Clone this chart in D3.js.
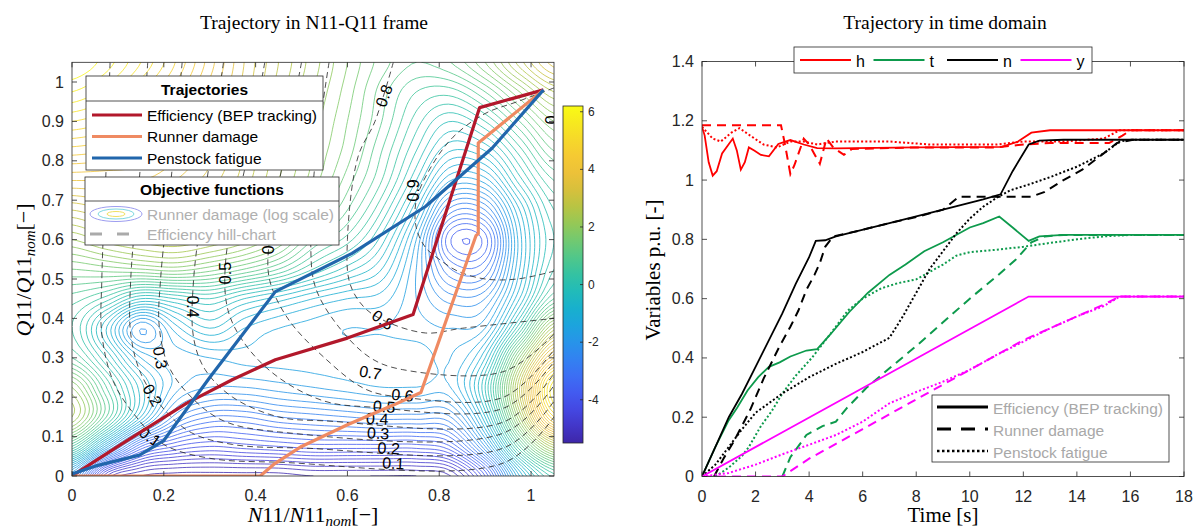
<!DOCTYPE html>
<html>
<head>
<meta charset="utf-8">
<script src="https://cdn.jsdelivr.net/npm/d3@7"></script>
<style>
  body { margin: 0; background: #fff; }
  text { font-family: "Liberation Sans", Arial, sans-serif; fill: #262626; }
  .serif { font-family: "Liberation Serif", "DejaVu Serif", serif; }
</style>
</head>
<body>
<script>
'use strict';

// ---------- left panel: runner damage field (log scale), rows = Q11, cols = N11 ----------
const damageX = [0, 0.075, 0.15, 0.225, 0.3, 0.375, 0.45, 0.525, 0.6, 0.675, 0.75, 0.825, 0.9, 0.975, 1.05];
const damageY = [0, 0.075, 0.15, 0.225, 0.3, 0.375, 0.45, 0.525, 0.6, 0.675, 0.75, 0.825, 0.9, 0.975, 1.05];
const damageLog = [
  [-2.0, -4.8, -5.4, -5.5, -5.5, -5.5, -5.5, -5.4, -5.4, -5.4, -5.4, -5.2, -3.8, -1.2, 0.3],
  [ 0.6, -1.5, -3.4, -4.0, -4.2, -4.1, -4.0, -3.9, -3.9, -3.9, -3.9, -3.6, -2.0, 0.6, 2.5],
  [ 2.4,  0.8, -1.0, -2.5, -3.0, -3.0, -2.8, -2.7, -2.6, -2.5, -2.5, -2.4, -0.8, 2.2, 5.0],
  [ 2.0,  0.6, -0.7, -1.7, -2.0, -2.0, -1.9, -1.8, -1.7, -1.6, -1.6, -1.6, -0.2, 2.8, 5.8],
  [ 0.8, -0.2, -1.4, -1.7, -1.6, -1.5, -1.5, -1.5, -1.5, -1.5, -1.5, -1.6, -0.8, 1.8, 4.2],
  [ 0.4, -0.8, -2.2, -1.3, -0.8, -1.2, -1.4, -1.5, -1.6, -1.6, -1.7, -1.8, -1.6, 0.2, 2.5],
  [ 0.7,  0.3, -0.4, -0.2,  0.0, -0.4, -0.7, -1.0, -1.2, -1.3, -1.8, -2.3, -2.2, -0.8, 0.8],
  [ 1.4,  1.5,  1.6,  1.7,  1.5,  1.2,  0.8,  0.2, -0.3, -0.8, -1.8, -3.0, -3.0, -1.2, 0.2],
  [ 2.2,  2.5,  2.7,  2.8,  2.6,  2.3,  1.8,  1.0,  0.5, -0.3, -1.6, -3.6, -3.5, -1.3, 0.0],
  [ 3.0,  3.2,  3.3,  3.3,  3.0,  2.7,  2.2,  1.6,  1.0,  0.2, -1.0, -2.7, -2.6, -1.0, 0.2],
  [ 3.8,  3.8,  3.8,  3.6,  3.3,  2.9,  2.4,  1.9,  1.3,  0.6, -0.4, -1.6, -1.5, -0.3, 0.6],
  [ 4.5,  4.4,  4.2,  3.9,  3.5,  3.0,  2.5,  2.0,  1.5,  0.8,  0.0, -0.8, -0.6, 0.3, 1.2],
  [ 5.2,  5.0,  4.6,  4.2,  3.7,  3.1,  2.6,  2.1,  1.6,  1.0,  0.3, -0.2,  0.2, 1.0, 1.8],
  [ 5.8,  5.5,  5.0,  4.5,  3.9,  3.3,  2.7,  2.2,  1.7,  1.1,  0.6,  0.5,  1.0, 1.8, 2.6],
  [ 6.2,  5.9,  5.4,  4.8,  4.1,  3.4,  2.8,  2.3,  1.8,  1.3,  1.0,  1.2,  1.8, 2.7, 3.5]
];
const damageRange = [-5.5, 6.2];
const colorbarTicks = [-4, -2, 0, 2, 4, 6];

// efficiency hill-chart contours (N11, Q11 points along each iso-line)
const effLevels = [0.1, 0.2, 0.3, 0.4, 0.5, 0.6, 0.7, 0.8, 0.9];
const effLines = [
  [[0.083,1.05],[0.075,0.8],[0.065,0.5],[0.065,0.36],[0.09,0.24],[0.14,0.15],[0.2,0.08],[0.3,0.045],[0.45,0.035],[0.94,0.033],[1.05,0.15]],
  [[0.165,1.05],[0.15,0.8],[0.128,0.5],[0.128,0.36],[0.15,0.26],[0.2,0.17],[0.26,0.11],[0.35,0.08],[0.5,0.071],[0.94,0.071],[1.05,0.19]],
  [[0.24,1.05],[0.22,0.8],[0.193,0.5],[0.19,0.38],[0.21,0.28],[0.26,0.2],[0.33,0.14],[0.45,0.112],[0.94,0.109],[1.05,0.23]],
  [[0.33,1.05],[0.3,0.8],[0.265,0.5],[0.265,0.35],[0.29,0.27],[0.35,0.2],[0.45,0.15],[0.55,0.14],[0.94,0.137],[1.05,0.26]],
  [[0.42,1.05],[0.38,0.8],[0.335,0.55],[0.34,0.42],[0.38,0.33],[0.45,0.25],[0.55,0.19],[0.65,0.175],[0.94,0.172],[1.05,0.29]],
  [[0.5,1.05],[0.46,0.8],[0.43,0.6],[0.43,0.5],[0.47,0.4],[0.55,0.3],[0.64,0.22],[0.72,0.2],[0.94,0.2],[1.05,0.32]],
  [[0.56,1.05],[0.53,0.8],[0.52,0.6],[0.53,0.48],[0.58,0.38],[0.65,0.3],[0.72,0.27],[0.94,0.265],[1.05,0.36]],
  [[0.7,1.05],[0.66,0.9],[0.623,0.81],[0.6,0.6],[0.605,0.49],[0.635,0.43],[0.677,0.396],[0.77,0.363],[0.85,0.375],[1.05,0.4]],
  [[1.05,0.985],[0.97,0.95],[0.9,0.92],[0.83,0.86],[0.78,0.78],[0.75,0.7],[0.75,0.63],[0.77,0.58],[0.8,0.55],[0.84,0.52],[0.9,0.5],[0.97,0.5],[1.05,0.52]]
];
const effLabelText  = ['0.1','0.2','0.3','0.4','0.5','0','0.7','0.6','0.5','0.4','0.3','0.2','0.1','0.8','0.8','0.9','0.'];
const effLabelPos   = [[0.17,0.1],[0.175,0.205],[0.192,0.3],[0.263,0.43],[0.335,0.515],[0.427,0.574],[0.65,0.262],[0.72,0.205],[0.68,0.176],[0.665,0.145],[0.667,0.108],[0.69,0.07],[0.70,0.032],[0.677,0.396],[0.68,0.965],[0.745,0.725],[1.044,0.91]];
const effLabelAngle = [35, 60, 80, 90, -90, -90, 10, 5, 5, 3, 3, 3, 3, 35, -70, -90, -90];

// trajectories in N11-Q11 frame
const trajNames = ['Efficiency (BEP tracking)', 'Runner damage', 'Penstock fatigue'];
const trajEff = [[0,0],[0.1,0.075],[0.25,0.185],[0.35,0.245],[0.443,0.295],[0.6,0.35],[0.743,0.41],[0.888,0.935],[1.027,0.98]];
const trajRunner = [[0,0],[0.41,0],[0.44,0.03],[0.5,0.075],[0.6,0.13],[0.7,0.18],[0.76,0.212],[0.88,0.61],[0.885,0.615],[0.885,0.845],[1.027,0.98]];
const trajPenstock = [[0,0.005],[0.05,0.025],[0.147,0.053],[0.2,0.09],[0.3,0.25],[0.443,0.468],[0.61,0.565],[0.77,0.684],[0.915,0.832],[1.027,0.98]];

// ---------- right panel: time domain ----------
const hEff = [[0,1.18],[0.1,1.15],[0.25,1.06],[0.4,1.015],[0.55,1.03],[0.75,1.09],[0.95,1.115],[1.15,1.14],[1.3,1.1],[1.45,1.035],[1.6,1.06],[1.75,1.11],[1.95,1.1],[2.2,1.085],[2.5,1.08],[2.85,1.122],[3.3,1.135],[3.8,1.12],[4.3,1.108],[5,1.107],[8,1.11],[11.2,1.112],[11.8,1.13],[12.3,1.16],[13,1.168],[18,1.168]];
const hRunner = [[0,1.185],[2.95,1.185],[3.1,1.12],[3.3,1.02],[3.45,1.05],[3.8,1.14],[4.0,1.12],[4.4,1.055],[4.65,1.14],[4.9,1.11],[5.3,1.085],[5.6,1.105],[8,1.11],[11,1.11],[12,1.12],[13,1.125],[15.2,1.125],[15.7,1.15],[16,1.168],[18,1.168]];
const hPenstock = [[0,1.18],[0.4,1.14],[0.7,1.13],[1.1,1.16],[1.4,1.175],[1.8,1.15],[2.3,1.12],[2.8,1.11],[3.3,1.13],[3.8,1.13],[4.3,1.12],[5,1.13],[7,1.13],[8.5,1.12],[11,1.12],[12,1.13],[13.5,1.13],[15,1.14],[15.6,1.168],[18,1.168]];

const tEff = [[0,0],[0.5,0.1],[1,0.19],[1.3,0.23],[1.7,0.29],[2.1,0.335],[2.5,0.37],[2.9,0.385],[3.3,0.405],[3.9,0.425],[4.3,0.43],[4.8,0.48],[5.5,0.555],[6.2,0.62],[7,0.68],[7.6,0.715],[8.3,0.76],[9,0.79],[10,0.84],[10.5,0.855],[11.1,0.877],[11.6,0.84],[12.2,0.795],[12.6,0.81],[13.5,0.815],[18,0.815]];
const tRunner = [[3.0,0],[3.3,0.065],[3.9,0.14],[4.5,0.17],[5.0,0.185],[5.4,0.23],[6.15,0.3],[7,0.365],[8,0.44],[9,0.52],[10,0.6],[11,0.675],[11.7,0.73],[12.3,0.79],[12.8,0.81],[13.5,0.815],[18,0.815]];
const tPenstock = [[0.5,0],[1,0.03],[1.5,0.07],[1.75,0.1],[2.2,0.17],[2.6,0.22],[3.0,0.28],[3.5,0.34],[4.1,0.4],[4.7,0.47],[5.45,0.56],[6,0.6],[6.7,0.635],[7.3,0.652],[8,0.665],[8.5,0.69],[9,0.715],[9.5,0.745],[10,0.757],[11,0.765],[12,0.775],[13,0.788],[14,0.8],[15,0.81],[16,0.815],[18,0.815]];

const nEff = [[0,0],[0.5,0.1],[1,0.2],[1.5,0.28],[2,0.37],[2.5,0.46],[3,0.55],[3.5,0.65],[4,0.74],[4.25,0.795],[4.6,0.797],[5,0.81],[7,0.855],[9,0.9],[10.5,0.935],[11.15,0.952],[11.6,1.03],[12.2,1.12],[12.6,1.133],[13.5,1.136],[18,1.136]];
const nRunner = [[0.45,0],[0.8,0.06],[1.2,0.12],[1.8,0.225],[2.3,0.33],[2.9,0.44],[3.3,0.505],[3.6,0.56],[3.9,0.63],[4.2,0.68],[4.4,0.72],[4.6,0.775],[4.9,0.81],[5.9,0.83],[7,0.855],[8,0.875],[9,0.9],[9.6,0.944],[12.3,0.944],[12.8,0.96],[13.5,1.0],[14.2,1.035],[15,1.09],[15.5,1.125],[16.1,1.136],[18,1.136]];
const nPenstock = [[0,0],[0.5,0.04],[1,0.1],[1.5,0.16],[2,0.215],[3,0.28],[4,0.335],[5,0.38],[6,0.42],[7,0.468],[7.5,0.54],[8,0.62],[8.5,0.7],[9,0.76],[9.5,0.82],[10,0.87],[10.5,0.91],[11,0.94],[11.5,0.965],[12.2,0.985],[13,1.01],[14,1.045],[15,1.09],[15.6,1.13],[16,1.136],[18,1.136]];

const yEff = [[0,0],[12.2,0.607],[18,0.607]];
const yRunner = [[0,0],[3,0],[4,0.06],[5,0.11],[6,0.16],[7,0.21],[8,0.26],[9,0.31],[10,0.36],[11,0.41],[12,0.46],[13,0.5],[14,0.54],[15,0.58],[15.6,0.607],[18,0.607]];
const yPenstock = [[0,0],[1,0.012],[2,0.04],[3,0.075],[4,0.107],[5,0.14],[6,0.185],[7,0.247],[8,0.285],[9,0.32],[10,0.36],[11,0.41],[12,0.455],[13,0.5],[14,0.54],[15,0.575],[15.6,0.607],[18,0.607]];

const varNames = ['h', 't', 'n', 'y'];
const varColors = ['#ff0000', '#0d9a4c', '#000000', '#ff00ff'];

// parula-like colour map
const parula = d3.interpolateRgbBasis(['#3e26a8','#4746eb','#3e6ff8','#2796eb','#0fb2d0','#2fc4a2','#6fcb72','#b9c53a','#f7ba3c','#f5d62b','#f9fb14']);

const svg = d3.select('body').append('svg').attr('width', 1197).attr('height', 529);

// ================= LEFT PANEL =================
const xL = d3.scaleLinear().domain([0, 1.05]).range([72, 554]);
const yL = d3.scaleLinear().domain([0, 1.05]).range([476, 62.3]);

svg.append('clipPath').attr('id', 'clipL').append('rect')
  .attr('x', 72).attr('y', 62.3).attr('width', 482).attr('height', 413.7);

const left = svg.append('g').attr('clip-path', 'url(#clipL)');

// smooth the read grid with a catmull-rom patch so the iso-lines are not jagged
function cubic(p0, p1, p2, p3, t) {
  return p1 + 0.5 * t * (p2 - p0 + t * (2 * p0 - 5 * p1 + 4 * p2 - p3 + t * (3 * (p1 - p2) + p3 - p0)));
}
function sampleGrid(g, u, v) {
  const ny = g.length, nx = g[0].length;
  const i = Math.min(Math.floor(u), nx - 2), j = Math.min(Math.floor(v), ny - 2);
  const tu = u - i, tv = v - j;
  const at = (r, c) => g[Math.max(0, Math.min(ny - 1, r))][Math.max(0, Math.min(nx - 1, c))];
  const rows = [];
  for (let k = -1; k <= 2; k++) rows.push(cubic(at(j + k, i - 1), at(j + k, i), at(j + k, i + 1), at(j + k, i + 2), tu));
  return cubic(rows[0], rows[1], rows[2], rows[3], tv);
}
const nf = 106;
const fineStepX = (damageX[damageX.length - 1] - damageX[0]) / (nf - 1);
const fineStepY = (damageY[damageY.length - 1] - damageY[0]) / (nf - 1);
const fine = new Float64Array(nf * nf);
for (let j = 0; j < nf; j++) {
  for (let i = 0; i < nf; i++) {
    fine[j * nf + i] = sampleGrid(damageLog, i * (damageX.length - 1) / (nf - 1), j * (damageY.length - 1) / (nf - 1));
  }
}
const levels = d3.range(-5.4, 6.21, 0.2);
const contours = d3.contours().size([nf, nf]).thresholds(levels)(fine);
const gridProj = d3.geoTransform({
  point: function (px, py) {
    this.stream.point(xL(damageX[0] + (px - 0.5) * fineStepX), yL(damageY[0] + (py - 0.5) * fineStepY));
  }
});
const cScale = d3.scaleLinear().domain(damageRange).range([0, 1]).clamp(true);
left.append('g').selectAll('path')
  .data(contours)
  .enter().append('path')
  .attr('d', d3.geoPath(gridProj))
  .attr('fill', 'none')
  .attr('stroke', d => parula(cScale(d.value)))
  .attr('stroke-width', 0.8);

// efficiency hill chart
const effLine = d3.line().x(d => xL(d[0])).y(d => yL(d[1])).curve(d3.curveCatmullRom.alpha(0.5));
left.append('g').selectAll('path')
  .data(effLines)
  .enter().append('path')
  .attr('d', effLine)
  .attr('fill', 'none')
  .attr('stroke', '#222')
  .attr('stroke-width', 0.8)
  .attr('stroke-dasharray', '6,4');

left.append('g').selectAll('text')
  .data(effLabelText)
  .enter().append('text')
  .attr('transform', (d, i) => 'translate(' + xL(effLabelPos[i][0]) + ',' + yL(effLabelPos[i][1]) + ')rotate(' + effLabelAngle[i] + ')')
  .attr('text-anchor', 'middle')
  .attr('dominant-baseline', 'central')
  .style('font-size', '16px')
  .style('fill', '#000')
  .text(d => d);

// trajectories
const trajColors = ['#b2182b', '#ef8a62', '#2166ac'];
const trajLine = d3.line().x(d => xL(d[0])).y(d => yL(d[1]));
[trajEff, trajRunner, trajPenstock].forEach((tr, i) => {
  left.append('path')
    .attr('d', trajLine(tr))
    .attr('fill', 'none')
    .attr('stroke', trajColors[i])
    .attr('stroke-width', 3.2)
    .attr('stroke-linejoin', 'round');
});

// axes box and ticks
function drawBox(xs, ys, xticks, yticks, xfmt, yfmt) {
  const g = svg.append('g');
  const [x0, x1] = xs.range(), [y0, y1] = ys.range();
  g.append('rect').attr('x', x0).attr('y', y1).attr('width', x1 - x0).attr('height', y0 - y1)
    .attr('fill', 'none').attr('stroke', '#262626').attr('stroke-width', 0.8);
  xticks.forEach(t => {
    const x = xs(t);
    g.append('line').attr('x1', x).attr('x2', x).attr('y1', y0).attr('y2', y0 - 5).attr('stroke', '#262626').attr('stroke-width', 0.8);
    g.append('line').attr('x1', x).attr('x2', x).attr('y1', y1).attr('y2', y1 + 5).attr('stroke', '#262626').attr('stroke-width', 0.8);
    g.append('text').attr('x', x).attr('y', y0 + 25).attr('text-anchor', 'middle').style('font-size', '16px').text(xfmt(t));
  });
  yticks.forEach(t => {
    const y = ys(t);
    g.append('line').attr('x1', x0).attr('x2', x0 + 5).attr('y1', y).attr('y2', y).attr('stroke', '#262626').attr('stroke-width', 0.8);
    g.append('line').attr('x1', x1).attr('x2', x1 - 5).attr('y1', y).attr('y2', y).attr('stroke', '#262626').attr('stroke-width', 0.8);
    g.append('text').attr('x', x0 - 8).attr('y', y).attr('text-anchor', 'end').attr('dominant-baseline', 'central').style('font-size', '16px').text(yfmt(t));
  });
}
const xTicksL = [0, 0.2, 0.4, 0.6, 0.8, 1];
const yTicksL = [0, 0.1, 0.2, 0.3, 0.4, 0.5, 0.6, 0.7, 0.8, 0.9, 1];
drawBox(xL, yL, xTicksL, yTicksL, d3.format('~g'), d3.format('~g'));

// colorbar
const cbY = d3.scaleLinear().domain(damageRange).range([443, 106]);
const grad = svg.append('defs').append('linearGradient').attr('id', 'cbGrad')
  .attr('x1', 0).attr('x2', 0).attr('y1', 1).attr('y2', 0);
d3.range(0, 1.001, 0.05).forEach(f => grad.append('stop').attr('offset', f).attr('stop-color', parula(f)));
svg.append('rect').attr('x', 563).attr('y', 106).attr('width', 20).attr('height', 337)
  .attr('fill', 'url(#cbGrad)').attr('stroke', '#262626').attr('stroke-width', 0.8);
colorbarTicks.forEach(t => {
  svg.append('line').attr('x1', 583).attr('x2', 580).attr('y1', cbY(t)).attr('y2', cbY(t)).attr('stroke', '#262626').attr('stroke-width', 0.8);
  svg.append('text').attr('x', 588).attr('y', cbY(t)).attr('dominant-baseline', 'central').style('font-size', '12px').text(t);
});

// legends inside left panel
const lg1 = svg.append('g');
lg1.append('rect').attr('x', 86).attr('y', 76).attr('width', 237).attr('height', 94).attr('fill', '#fff').attr('stroke', '#262626').attr('stroke-width', 0.8);
lg1.append('line').attr('x1', 86).attr('x2', 323).attr('y1', 101).attr('y2', 101).attr('stroke', '#262626').attr('stroke-width', 0.8);
lg1.append('text').attr('x', 204.5).attr('y', 89).attr('text-anchor', 'middle').attr('dominant-baseline', 'central')
  .style('font-size', '15.5px').style('font-weight', 'bold').style('fill', '#000').text('Trajectories');
trajNames.forEach((nm, i) => {
  const y = 115 + i * 21.5;
  lg1.append('line').attr('x1', 92).attr('x2', 142).attr('y1', y).attr('y2', y).attr('stroke', trajColors[i]).attr('stroke-width', 3.2);
  lg1.append('text').attr('x', 147).attr('y', y).attr('dominant-baseline', 'central').style('font-size', '15.5px').style('fill', '#000').text(nm);
});

const lg2 = svg.append('g');
lg2.append('rect').attr('x', 85).attr('y', 177).attr('width', 254).attr('height', 68).attr('fill', '#fff').attr('stroke', '#262626').attr('stroke-width', 0.8);
lg2.append('line').attr('x1', 85).attr('x2', 339).attr('y1', 201).attr('y2', 201).attr('stroke', '#262626').attr('stroke-width', 0.8);
lg2.append('text').attr('x', 212).attr('y', 189).attr('text-anchor', 'middle').attr('dominant-baseline', 'central')
  .style('font-size', '15.5px').style('font-weight', 'bold').style('fill', '#000').text('Objective functions');
[[26, 7.5, '#9d9df0'], [18, 5, '#7fd8e0'], [9, 2.5, '#f0e060']].forEach(e => {
  lg2.append('ellipse').attr('cx', 116).attr('cy', 214).attr('rx', e[0]).attr('ry', e[1])
    .attr('fill', 'none').attr('stroke', e[2]).attr('stroke-width', 1);
});
lg2.append('text').attr('x', 147).attr('y', 214).attr('dominant-baseline', 'central').style('font-size', '15.5px').style('fill', '#b0b0b0').text('Runner damage (log scale)');
lg2.append('line').attr('x1', 90).attr('x2', 131).attr('y1', 234).attr('y2', 234).attr('stroke', '#aaa').attr('stroke-width', 3).attr('stroke-dasharray', '12,15');
lg2.append('text').attr('x', 147).attr('y', 234).attr('dominant-baseline', 'central').style('font-size', '15.5px').style('fill', '#b0b0b0').text('Efficiency hill-chart');

// titles and axis labels (left)
svg.append('text').attr('class', 'serif').attr('x', 314).attr('y', 29).attr('text-anchor', 'middle')
  .style('font-size', '19.5px').style('fill', '#000').text('Trajectory in N11-Q11 frame');

function mathLabel(g, sym) {
  const t = g.append('text').attr('class', 'serif').attr('text-anchor', 'middle').style('font-size', '22px').style('fill', '#000');
  t.append('tspan').style('font-style', 'italic').text(sym);
  t.append('tspan').text('11/');
  t.append('tspan').style('font-style', 'italic').text(sym);
  t.append('tspan').text('11');
  t.append('tspan').style('font-style', 'italic').style('font-size', '15px').attr('dy', 4).text('nom');
  t.append('tspan').attr('dy', -4).text('[\u2212]');
  return t;
}
mathLabel(svg.append('g').attr('transform', 'translate(313,522)'), 'N');
mathLabel(svg.append('g').attr('transform', 'translate(31,270)rotate(-90)'), 'Q');

// ================= RIGHT PANEL =================
const xR = d3.scaleLinear().domain([0, 18]).range([702, 1184]);
const yR = d3.scaleLinear().domain([0, 1.4]).range([476.5, 61.5]);

svg.append('clipPath').attr('id', 'clipR').append('rect')
  .attr('x', 702).attr('y', 61.5).attr('width', 482).attr('height', 415);
const right = svg.append('g').attr('clip-path', 'url(#clipR)');

const styles = [
  { dash: null, width: 1.8 },
  { dash: '9,6', width: 2 },
  { dash: '2,2.2', width: 2 }
];
const seriesR = [
  [hEff, hRunner, hPenstock],
  [tEff, tRunner, tPenstock],
  [nEff, nRunner, nPenstock],
  [yEff, yRunner, yPenstock]
];
const lineR = d3.line().x(d => xR(d[0])).y(d => yR(d[1]));
seriesR.forEach((group, v) => {
  group.forEach((s, k) => {
    right.append('path')
      .attr('d', lineR(s))
      .attr('fill', 'none')
      .attr('stroke', varColors[v])
      .attr('stroke-width', styles[k].width)
      .attr('stroke-dasharray', styles[k].dash);
  });
});

drawBox(xR, yR, d3.range(0, 19, 2), [0, 0.2, 0.4, 0.6, 0.8, 1, 1.2, 1.4], d3.format('~g'), d3.format('~g'));

// top legend (variables)
const lg3 = svg.append('g');
lg3.append('rect').attr('x', 794).attr('y', 47).attr('width', 298).attr('height', 26).attr('fill', '#fff').attr('stroke', '#262626').attr('stroke-width', 0.8);
varNames.forEach((nm, i) => {
  const x = 800 + i * 73.5;
  lg3.append('line').attr('x1', x).attr('x2', x + 51).attr('y1', 60).attr('y2', 60).attr('stroke', varColors[i]).attr('stroke-width', 2);
  lg3.append('text').attr('x', x + 56).attr('y', 61).attr('dominant-baseline', 'central').style('font-size', '16px').style('fill', '#000').text(nm);
});

// bottom legend (line styles)
const lg4 = svg.append('g');
lg4.append('rect').attr('x', 932).attr('y', 395).attr('width', 237).attr('height', 67).attr('fill', '#fff').attr('stroke', '#262626').attr('stroke-width', 0.8);
trajNames.forEach((nm, i) => {
  const y = 407 + i * 22;
  lg4.append('line').attr('x1', 937).attr('x2', 988).attr('y1', y).attr('y2', y).attr('stroke', '#000')
    .attr('stroke-width', i === 2 ? 2.5 : 3).attr('stroke-dasharray', i === 0 ? null : (i === 1 ? '14,10' : '2.5,2.5'));
  lg4.append('text').attr('x', 993).attr('y', y + 1).attr('dominant-baseline', 'central').style('font-size', '15.5px').style('fill', '#a8a8a8').text(nm);
});

// titles and axis labels (right)
svg.append('text').attr('class', 'serif').attr('x', 945).attr('y', 29).attr('text-anchor', 'middle')
  .style('font-size', '19.5px').style('fill', '#000').text('Trajectory in time domain');
svg.append('text').attr('class', 'serif').attr('x', 943).attr('y', 522).attr('text-anchor', 'middle')
  .style('font-size', '21px').style('fill', '#000').text('Time [s]');
svg.append('text').attr('class', 'serif').attr('transform', 'translate(660,270)rotate(-90)').attr('text-anchor', 'middle')
  .style('font-size', '21px').style('fill', '#000').text('Variables p.u.  [-]');
</script>
</body>
</html>
